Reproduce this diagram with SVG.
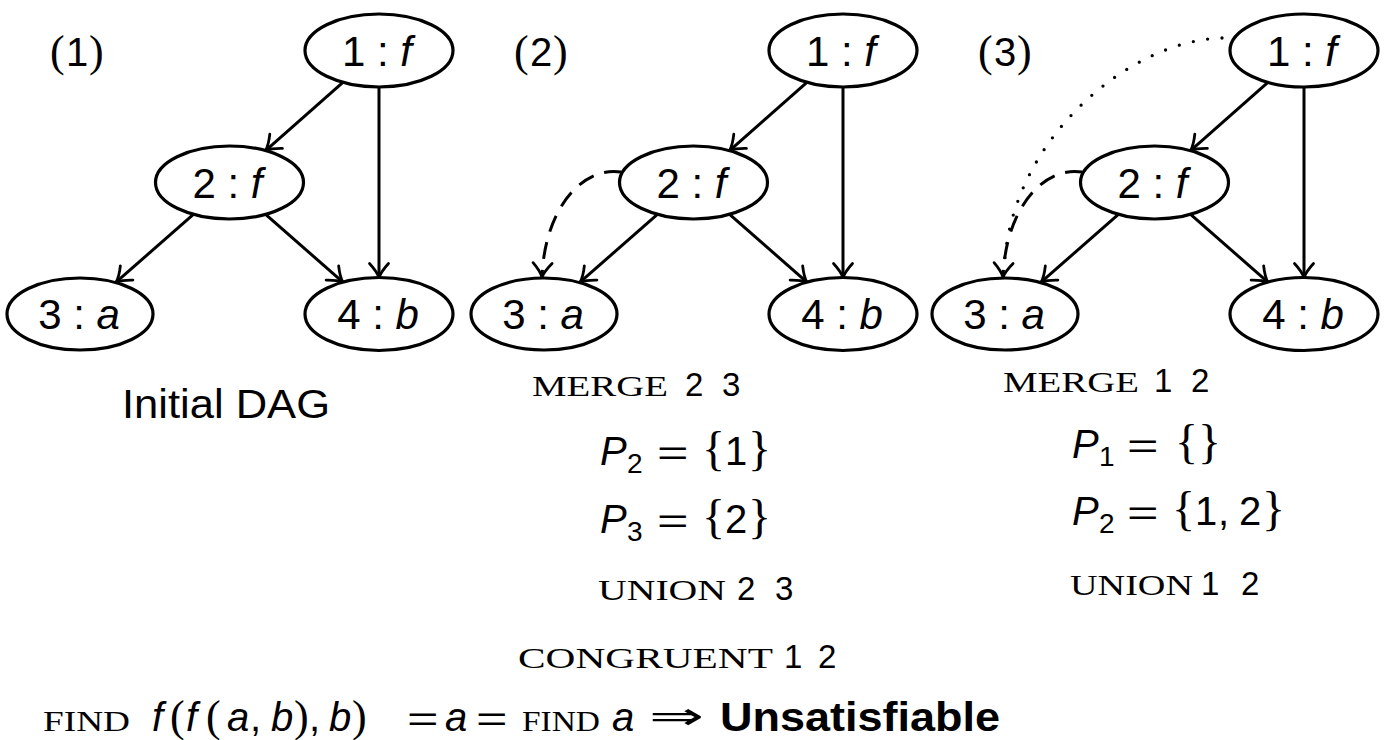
<svg xmlns="http://www.w3.org/2000/svg" width="1389" height="740" viewBox="0 0 1389 740">
<style>
.nd ellipse{fill:#fff;stroke:#000;stroke-width:3.2}
.lbl{font-family:"Liberation Sans",Arial,sans-serif;font-size:42px;fill:#000;text-anchor:middle}
.t{font-family:"Liberation Sans",Arial,sans-serif;font-size:40px;fill:#000}
.it{font-style:italic}
.sr{font-family:"Liberation Serif","Times New Roman",serif}
.eq{font-family:"Liberation Sans",Arial,sans-serif;font-size:36px;fill:#000}
.sc{font-family:"Liberation Serif","Times New Roman",serif;font-size:30px;fill:#000}
.n30{font-family:"Liberation Sans",Arial,sans-serif;font-size:33px;fill:#000}
.e{fill:none;stroke:#000;stroke-width:3;marker-end:url(#arr)}
.dash{fill:none;stroke:#000;stroke-width:3;stroke-dasharray:17 11;marker-end:url(#arr)}
.dot{fill:none;stroke:#000;stroke-width:3.3;stroke-linecap:round;stroke-dasharray:0 14.5}
</style>
<defs>
<marker id="arr" markerUnits="userSpaceOnUse" viewBox="-18 -13 20 26" refX="0" refY="0" markerWidth="20" markerHeight="26" orient="auto" overflow="visible">
<path d="M -14,-9.5 Q -6,-2.2 0,0 Q -6,2.2 -14,9.5" fill="none" stroke="#000" stroke-width="2.8" stroke-linecap="round" stroke-dasharray="none"/>
</marker>
</defs>
<rect width="1389" height="740" fill="#fff"/>

<g id="connectors">
<g transform="translate(0,0)">
<line class="e" x1="342.9" y1="82.4" x2="265.6" y2="150.6"/>
<line class="e" x1="379" y1="87" x2="379" y2="277.5"/>
<line class="e" x1="193.4" y1="214.3" x2="116.1" y2="282.2"/>
<line class="e" x1="265.6" y1="214.3" x2="342.9" y2="282.2"/>
</g>
<g transform="translate(464,0)">
<line class="e" x1="342.9" y1="82.4" x2="265.6" y2="150.6"/>
<line class="e" x1="379" y1="87" x2="379" y2="277.5"/>
<line class="e" x1="193.4" y1="214.3" x2="116.1" y2="282.2"/>
<line class="e" x1="265.6" y1="214.3" x2="342.9" y2="282.2"/>
<path class="dash" d="M 157,172 C 121,166 81,205 78,277"/>
</g>
<g transform="translate(925,0)">
<line class="e" x1="342.9" y1="82.4" x2="265.6" y2="150.6"/>
<line class="e" x1="379" y1="87" x2="379" y2="277.5"/>
<line class="e" x1="193.4" y1="214.3" x2="116.1" y2="282.2"/>
<line class="e" x1="265.6" y1="214.3" x2="342.9" y2="282.2"/>
<path class="dot" d="M 297,38 C 205,40 83,140 79,272"/>
<path class="dash" d="M 157,172 C 121,166 81,205 78,277"/>
</g>
</g>

<g id="panel1">
<g id="p1-n1" class="nd"><ellipse cx="379" cy="50.5" rx="74" ry="36.5"/><text class="lbl" x="377" y="65.5">1 : <tspan class="it">f</tspan></text></g>
<g id="p1-n2" class="nd"><ellipse cx="229.5" cy="182.5" rx="74" ry="36.5"/><text class="lbl" x="227.5" y="197.5">2 : <tspan class="it">f</tspan></text></g>
<g id="p1-n3" class="nd"><ellipse cx="80" cy="314" rx="73" ry="36"/><text class="lbl" x="79" y="329">3 : <tspan class="it">a</tspan></text></g>
<g id="p1-n4" class="nd"><ellipse cx="379" cy="314" rx="74" ry="36.5"/><text class="lbl" x="378" y="329">4 : <tspan class="it">b</tspan></text></g>
</g>
<g id="panel2" transform="translate(464,0)">
<g id="p2-n1" class="nd"><ellipse cx="379" cy="50.5" rx="74" ry="36.5"/><text class="lbl" x="377" y="65.5">1 : <tspan class="it">f</tspan></text></g>
<g id="p2-n2" class="nd"><ellipse cx="229.5" cy="182.5" rx="74" ry="36.5"/><text class="lbl" x="227.5" y="197.5">2 : <tspan class="it">f</tspan></text></g>
<g id="p2-n3" class="nd"><ellipse cx="80" cy="314" rx="73" ry="36"/><text class="lbl" x="79" y="329">3 : <tspan class="it">a</tspan></text></g>
<g id="p2-n4" class="nd"><ellipse cx="379" cy="314" rx="74" ry="36.5"/><text class="lbl" x="378" y="329">4 : <tspan class="it">b</tspan></text></g>
</g>
<g id="panel3" transform="translate(925,0)">
<g id="p3-n1" class="nd"><ellipse cx="379" cy="50.5" rx="74" ry="36.5"/><text class="lbl" x="377" y="65.5">1 : <tspan class="it">f</tspan></text></g>
<g id="p3-n2" class="nd"><ellipse cx="229.5" cy="182.5" rx="74" ry="36.5"/><text class="lbl" x="227.5" y="197.5">2 : <tspan class="it">f</tspan></text></g>
<g id="p3-n3" class="nd"><ellipse cx="80" cy="314" rx="73" ry="36"/><text class="lbl" x="79" y="329">3 : <tspan class="it">a</tspan></text></g>
<g id="p3-n4" class="nd"><ellipse cx="379" cy="314" rx="74" ry="36.5"/><text class="lbl" x="378" y="329">4 : <tspan class="it">b</tspan></text></g>
</g>

<g id="labels">
<text class="t" y="66"><tspan class="sr" x="50" font-size="44">(</tspan><tspan x="66">1</tspan><tspan class="sr" x="89" font-size="44">)</tspan></text>
<text class="t" y="66"><tspan class="sr" x="514" font-size="44">(</tspan><tspan x="530">2</tspan><tspan class="sr" x="553" font-size="44">)</tspan></text>
<text class="t" y="66"><tspan class="sr" x="978" font-size="44">(</tspan><tspan x="994">3</tspan><tspan class="sr" x="1017" font-size="44">)</tspan></text>

<text class="t" x="122" y="418" font-size="42" textLength="208" lengthAdjust="spacingAndGlyphs">Initial DAG</text>

<!-- panel 2 steps -->
<text class="sc" x="532" y="396" textLength="136" lengthAdjust="spacingAndGlyphs">MERGE</text>
<text class="n30" y="396"><tspan x="685">2</tspan><tspan x="722">3</tspan></text>
<text class="t" y="465"><tspan class="it" x="600">P</tspan><tspan x="627" y="473" font-size="28">2</tspan></text>
<text class="eq" transform="translate(657,465) scale(1.5,1)">=</text>
<text class="t" y="465"><tspan class="sr" x="702" font-size="48">{</tspan><tspan x="725">1</tspan><tspan class="sr" x="748" font-size="48">}</tspan></text>
<text class="t" y="533"><tspan class="it" x="600">P</tspan><tspan x="627" y="541" font-size="28">3</tspan></text>
<text class="eq" transform="translate(657,533) scale(1.5,1)">=</text>
<text class="t" y="533"><tspan class="sr" x="702" font-size="48">{</tspan><tspan x="725">2</tspan><tspan class="sr" x="748" font-size="48">}</tspan></text>
<text class="sc" x="598" y="600" textLength="128" lengthAdjust="spacingAndGlyphs">UNION</text>
<text class="n30" y="600"><tspan x="737">2</tspan><tspan x="775">3</tspan></text>
<text class="sc" x="518" y="668" textLength="255" lengthAdjust="spacingAndGlyphs">CONGRUENT</text>
<text class="n30" y="668"><tspan x="784">1</tspan><tspan x="818">2</tspan></text>

<!-- panel 3 steps -->
<text class="sc" x="1003" y="392" textLength="136" lengthAdjust="spacingAndGlyphs">MERGE</text>
<text class="n30" y="392"><tspan x="1154">1</tspan><tspan x="1191">2</tspan></text>
<text class="t" y="458"><tspan class="it" x="1072">P</tspan><tspan x="1099" y="466" font-size="28">1</tspan></text>
<text class="eq" transform="translate(1127,458) scale(1.5,1)">=</text>
<text class="t" y="458"><tspan class="sr" x="1175" font-size="48">{</tspan><tspan class="sr" x="1198" font-size="48">}</tspan></text>
<text class="t" y="525"><tspan class="it" x="1072">P</tspan><tspan x="1099" y="533" font-size="28">2</tspan></text>
<text class="eq" transform="translate(1127,525) scale(1.5,1)">=</text>
<text class="t" y="525"><tspan class="sr" x="1172" font-size="48">{</tspan><tspan x="1195">1</tspan><tspan x="1218">,</tspan><tspan x="1239">2</tspan><tspan class="sr" x="1262" font-size="48">}</tspan></text>
<text class="sc" x="1070" y="595" textLength="123" lengthAdjust="spacingAndGlyphs">UNION</text>
<text class="n30" y="595"><tspan x="1201">1</tspan><tspan x="1241">2</tspan></text>

<!-- bottom line -->
<text class="sc" x="43" y="731" textLength="87" lengthAdjust="spacingAndGlyphs">FIND</text>
<text class="t" y="731"><tspan class="it" x="152">f</tspan><tspan class="sr" x="170" font-size="44">(</tspan><tspan class="it" x="186">f</tspan><tspan class="sr" x="206" font-size="44">(</tspan><tspan class="it" x="227">a</tspan><tspan x="250">,</tspan><tspan class="it" x="271">b</tspan><tspan class="sr" x="294" font-size="44">)</tspan><tspan x="309">,</tspan><tspan class="it" x="329">b</tspan><tspan class="sr" x="352" font-size="44">)</tspan></text>
<text class="eq" transform="translate(407,731) scale(1.5,1)">=</text>
<text class="t it" x="445" y="731">a</text>
<text class="eq" transform="translate(476,731) scale(1.5,1)">=</text>
<text class="sc" x="522" y="731" textLength="78" lengthAdjust="spacingAndGlyphs">FIND</text>
<text class="t it" x="612" y="731">a</text>
<text x="649" y="729" font-family="DejaVu Sans,sans-serif" font-size="38" textLength="55" lengthAdjust="spacingAndGlyphs" fill="#000">⇒</text>
<text class="t" x="720" y="731" font-size="44" font-weight="bold" textLength="280" lengthAdjust="spacingAndGlyphs">Unsatisfiable</text>
</g>
</svg>
